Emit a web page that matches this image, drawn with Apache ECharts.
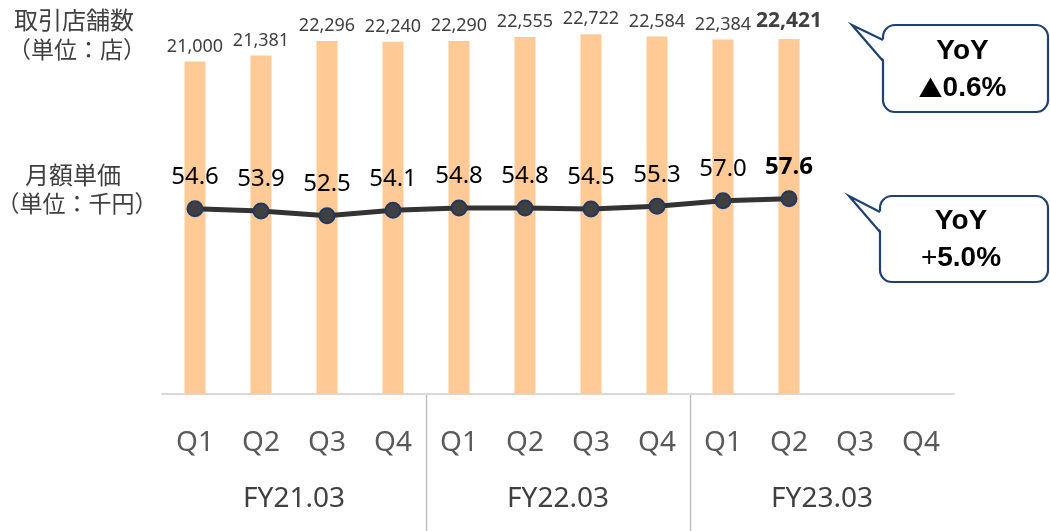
<!DOCTYPE html>
<html><head><meta charset="utf-8">
<script src="https://cdn.jsdelivr.net/npm/echarts@6/dist/echarts.min.js"></script>
<style>html,body{margin:0;padding:0;background:#fff}#c{width:1050px;height:531px}</style>
</head><body><div id="c"></div>
<script>
const quarters = ['Q1','Q2','Q3','Q4','Q1','Q2','Q3','Q4','Q1','Q2','Q3','Q4'];
const fiscalYears = ['FY21.03','FY22.03','FY23.03'];
const storeCounts = [21000,21381,22296,22240,22290,22555,22722,22584,22384,22421,null,null];
const monthlyPrice = [54.6,53.9,52.5,54.1,54.8,54.8,54.5,55.3,57.0,57.6,null,null];
const storeYoYMark = '▲';
const storeYoYValue = '0.6%';
const priceYoYSign = '+';
const priceYoYValue = '5.0%';

const lastIdx = storeCounts.reduce((a,v,i)=> v!=null ? i : a, -1);
const numFont = '"Noto Sans", "Open Sans", sans-serif';
const jpFont = '"Noto Sans CJK JP", sans-serif';

const barData = storeCounts.map((v,i)=> i===lastIdx ? {value:v,label:{fontWeight:'bold',fontSize:21,color:'#404040',distance:7}} : v);
const lineData = monthlyPrice.map((v,i)=> i===lastIdx ? {value:v,label:{fontWeight:'bold'}} : v);

const chart = echarts.init(document.getElementById('c'));

function callout(boxX, boxY, boxW, boxH, tipX, tipY, joinY1, joinY2, lines){
  const stroke = '#1F4170';
  const ff = '"Liberation Sans", Arial, sans-serif';
  return {
    type:'group',
    children:[
      {type:'rect', shape:{x:boxX,y:boxY,width:boxW,height:boxH,r:12}, style:{fill:'#fff',stroke:stroke,lineWidth:2.2}},
      {type:'polygon', shape:{points:[[boxX+2,joinY1],[tipX,tipY],[boxX+2,joinY2]]}, style:{fill:'#fff'}},
      {type:'polyline', shape:{points:[[boxX,joinY1],[tipX,tipY],[boxX,joinY2]]}, style:{stroke:stroke,lineWidth:2.2,fill:null}},
      {type:'text', x:boxX+boxW/2-3, y:boxY+boxH/2+1, style:{text:lines, rich:{
        b:{fontSize:28,fontWeight:'bold',fontFamily:ff,fill:'#000',lineHeight:37},
        n:{fontSize:28,fontWeight:'normal',fontFamily:ff,fill:'#000',lineHeight:37},
        t:{fontSize:24,fontWeight:'normal',fontFamily:jpFont,fill:'#000',lineHeight:37}
      }, align:'center', verticalAlign:'middle'}}
    ]
  };
}

const option = {
  animation:false,
  grid:{left:162,right:96,top:14,bottom:137},
  xAxis:[{
    type:'category', data:quarters, boundaryGap:true,
    axisLine:{lineStyle:{color:'#d9d9d9',width:2}},
    axisTick:{show:false},
    axisLabel:{fontSize:28,color:'#595959',margin:35,fontFamily:numFont}
  },{
    type:'category', data:fiscalYears, position:'bottom', boundaryGap:true,
    axisLine:{show:false}, axisTick:{show:false},
    axisLabel:{fontSize:28,color:'#404040',margin:91,fontFamily:numFont}
  }],
  yAxis:[
    {type:'value',min:0,max:24000,show:false,splitLine:{show:false}},
    {type:'value',min:-1,max:113,show:false,splitLine:{show:false}}
  ],
  series:[
    {type:'bar', data:barData, xAxisIndex:0, yAxisIndex:0, barWidth:21,
      itemStyle:{color:'#FFCA96'},
      label:{show:true, position:'top', distance:6, fontSize:18, color:'#404040', fontFamily:numFont,
        formatter:p=>Number(p.value).toLocaleString('en-US')}
    },
    {type:'line', data:lineData, xAxisIndex:0, yAxisIndex:1,
      lineStyle:{color:'#333333',width:5},
      symbol:'circle', symbolSize:15,
      itemStyle:{color:'#404040',borderColor:'#1F3864',borderWidth:2},
      label:{show:true, position:'top', distance:11, fontSize:24, color:'#000', fontFamily:numFont,
        formatter:p=>Number(p.value).toFixed(1)},
      z:5
    }
  ],
  graphic:[
    {type:'text', x:74, y:20, style:{text:'取引店舗数', fontSize:24, fill:'#404040', fontFamily:jpFont, align:'center', verticalAlign:'middle'}},
    {type:'text', x:77, y:49, style:{text:'（単位：店）', fontSize:23, fill:'#404040', fontFamily:jpFont, align:'center', verticalAlign:'middle'}},
    {type:'text', x:73, y:175, style:{text:'月額単価', fontSize:24, fill:'#404040', fontFamily:jpFont, align:'center', verticalAlign:'middle'}},
    {type:'text', x:77, y:203, style:{text:'（単位：千円）', fontSize:23, fill:'#404040', fontFamily:jpFont, align:'center', verticalAlign:'middle'}},
    callout(883, 25, 165, 87, 852, 25, 40, 61, '{b|YoY}\n{t|'+storeYoYMark+'}{b|'+storeYoYValue+'}'),
    callout(880, 196, 168, 86, 849, 196, 212, 232, '{b|YoY}\n{n|'+priceYoYSign+'}{b|'+priceYoYValue+'}')
  ]
};
chart.setOption(option);

// group separators between fiscal years
const seps = [];
for (let g=1; g<fiscalYears.length; g++){
  const a = chart.convertToPixel({xAxisIndex:0}, g*4-1);
  const b = chart.convertToPixel({xAxisIndex:0}, g*4);
  const x = Math.round((a+b)/2)+0.5;
  const y0 = chart.convertToPixel({yAxisIndex:0}, 0);
  seps.push({type:'line', shape:{x1:x,y1:y0,x2:x,y2:531}, style:{stroke:'#bfbfbf',lineWidth:1.5}});
}
chart.setOption({graphic: option.graphic.concat(seps)});
</script></body></html>
